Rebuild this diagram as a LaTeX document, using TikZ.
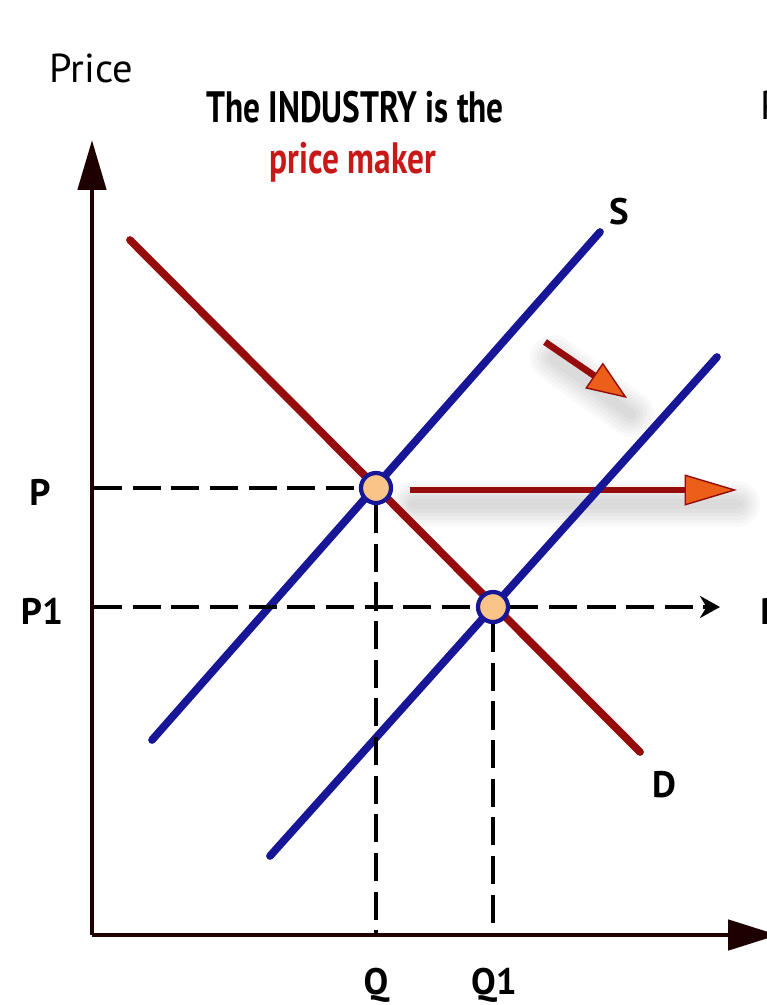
\documentclass[tikz,border=0pt]{standalone}
\usepackage{fontspec}
\setmainfont{PT Sans}
\usetikzlibrary{arrows.meta}
\definecolor{dred}{RGB}{150,12,12}
\definecolor{tred}{RGB}{200,25,25}
\definecolor{sblue}{RGB}{22,22,150}
\definecolor{dotfill}{RGB}{250,195,135}
\definecolor{arrorange}{RGB}{235,95,25}
\begin{document}
\begin{tikzpicture}[x=0.02cm,y=-0.02cm,
  axis/.style={line width=2.8pt,draw=black!88!red},
  curveD/.style={line width=4.4pt,draw=dred,line cap=round},
  curveS/.style={line width=4.4pt,draw=sblue,line cap=round},
  guide/.style={line width=1.9pt,dash pattern=on 16pt off 6pt,draw=black},
  eq/.style={circle,draw=sblue,line width=2.4pt,fill=dotfill,minimum size=0.6cm,inner sep=0pt},
  lbl/.style={font=\fontsize{21}{24}\selectfont\bfseries},
  softshadow/.style={draw=black,opacity=0.025,line cap=round}
]
\useasboundingbox (0,0) rectangle (767,1005);
\fill[white] (0,0) rectangle (767,1005);

% axes
\coordinate (O) at (92,935);
\coordinate (ytop) at (92,140);
\coordinate (xend) at (778,935);
\draw[axis,-{Triangle[length=1cm,width=0.56cm]}] (O) -- (ytop);
\draw[axis,-{Triangle[length=1cm,width=0.6cm]}] (O) -- (xend);

% shift arrows with a soft shadow (drawn under the curves)
\coordinate (ra) at (410,490);
\coordinate (rb) at (737,490);
\coordinate (sa1) at (545,342);
\coordinate (sa2) at (627,398);
\foreach \w in {6,10,14,18,22,26}{
  \draw[softshadow,line width=\w pt] ([shift={(4,14)}]ra) -- ([shift={(0,14)}]rb);
  \draw[softshadow,line width=\w pt] ([shift={(8,16)}]sa1) -- ([shift={(4,16)}]sa2);
}
\draw[line width=3.3pt,draw=dred,
    -{Triangle[length=1.05cm,width=0.62cm,fill=arrorange,line width=0.8pt]}] (ra) -- (rb);
\draw[line width=3.8pt,draw=dred,
    -{Triangle[length=0.8cm,width=0.62cm,fill=arrorange,line width=0.8pt]}] (sa1) -- (sa2);

% curves
\coordinate (d1) at (130,240);
\coordinate (d2) at (640,752);
\coordinate (sa) at (152,740);
\coordinate (sb) at (600,232);
\coordinate (ta) at (270,856);
\coordinate (tb) at (717,357);
\draw[curveD] (d1) -- (d2);
\draw[curveS] (sa) -- (sb);
\draw[curveS] (ta) -- (tb);

% equilibria
\node[eq] (e1) at (376,488) {};
\node[eq] (e2) at (493,607) {};

% guides
\coordinate (pL) at (94,488);
\coordinate (p1L) at (94,607);
\coordinate (p1R) at (720,607);
\coordinate (qB) at (376,933);
\coordinate (q1B) at (493,933);
\draw[guide] (pL) -- (e1.west);
\draw[guide] (e1.south) -- (qB);
\draw[guide] (p1L) -- (e2.west);
\draw[guide,-{Stealth[length=0.4cm,width=0.44cm]}] (e2.east) -- (p1R);
\draw[guide] (e2.south) -- (q1B);

% labels
\node[font=\fontsize{23}{26}\selectfont] (price) at (91,68) {Price};
\node[font=\fontsize{25}{28}\selectfont\bfseries] (title1) at (355,107) {\scalebox{0.76}[1]{The INDUSTRY is the}};
\node[font=\fontsize{25}{28}\selectfont\bfseries,text=tred] (title2) at (353,162) {\scalebox{0.76}[1]{price maker}};
\node[lbl] (lS) at (619,212) {S};
\node[lbl] (lD) at (664,785) {D};
\node[lbl] (lP) at (40,492) {P};
\node[lbl] (lP1) at (42,611) {P1};
\node[lbl] (lQ) at (376,985) {Q};
\node[lbl] (lQ1) at (494,985) {Q1};
% letters cut off at the right edge, as in the reference
\node[font=\fontsize{23}{26}\selectfont,anchor=west,inner sep=0pt] (edge1) at (760,105) {P};
\node[lbl,anchor=west,inner sep=0pt] (edge2) at (760,611) {P};
\end{tikzpicture}
\end{document}
